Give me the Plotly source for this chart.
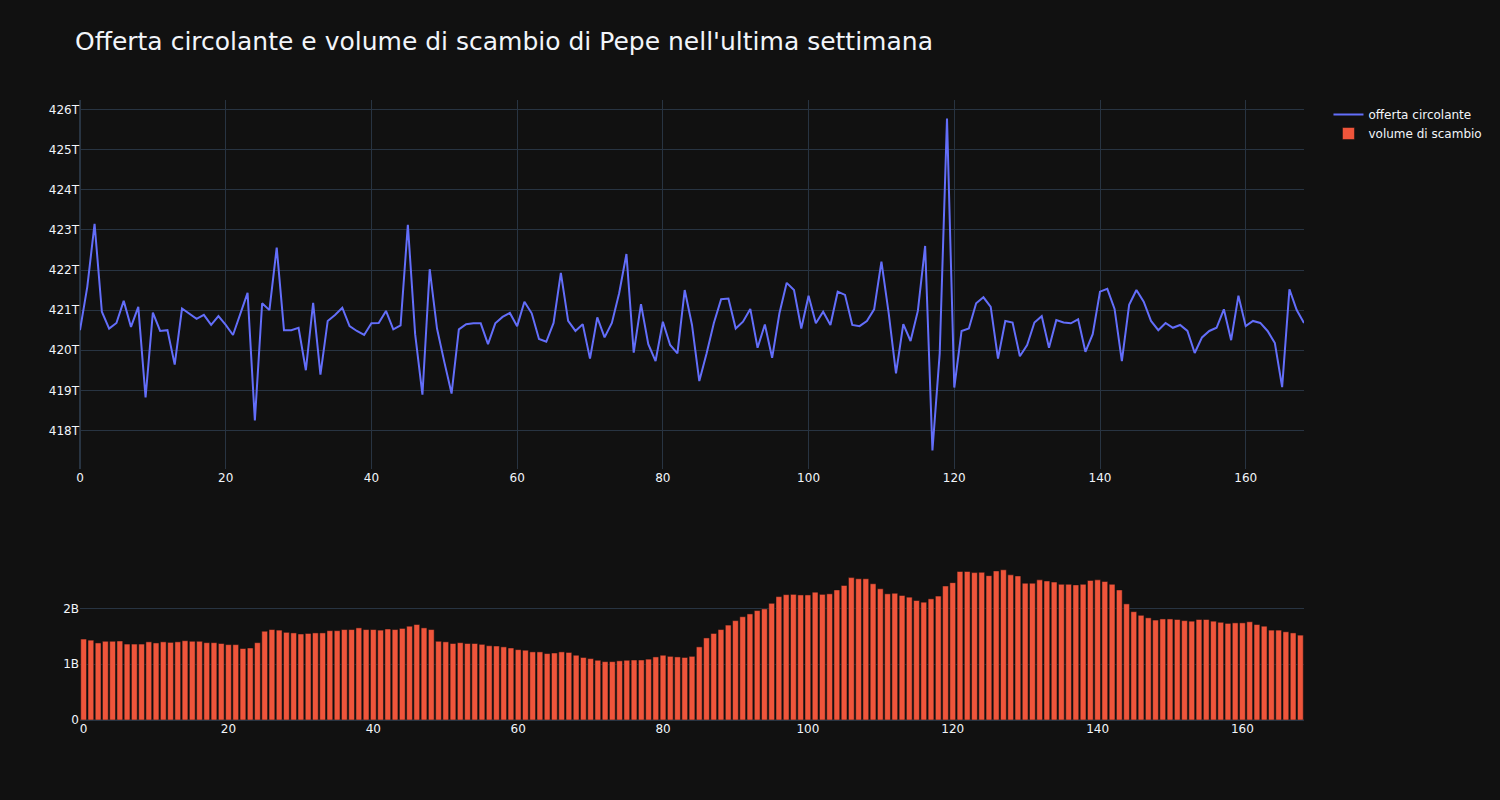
import plotly.graph_objects as go
from plotly.subplots import make_subplots

hours = list(range(169))

# circulating supply, in trillions
supply_t = [
    420.5, 421.58, 423.15, 420.96, 420.54, 420.68, 421.23, 420.58, 421.08, 418.82,
    420.94, 420.48, 420.5, 419.64, 421.04, 420.92, 420.78, 420.88, 420.63, 420.85,
    420.63, 420.38, 420.92, 421.43, 418.25, 421.17, 421.0, 422.56, 420.5, 420.5,
    420.56, 419.5, 421.18, 419.39, 420.73, 420.88, 421.06, 420.6, 420.48, 420.38,
    420.67, 420.68, 420.98, 420.52, 420.62, 423.13, 420.4, 418.89, 422.02, 420.54,
    419.71, 418.92, 420.52, 420.65, 420.67, 420.67, 420.15, 420.67, 420.83, 420.93,
    420.6, 421.21, 420.92, 420.28, 420.21, 420.68, 421.93, 420.73, 420.48, 420.65,
    419.79, 420.82, 420.32, 420.68, 421.42, 422.4, 419.94, 421.15, 420.15, 419.73,
    420.71, 420.13, 419.92, 421.5, 420.63, 419.23, 419.92, 420.68, 421.27, 421.29,
    420.54, 420.71, 421.03, 420.06, 420.64, 419.81, 420.92, 421.68, 421.5, 420.54,
    421.36, 420.67, 420.96, 420.63, 421.46, 421.38, 420.63, 420.6, 420.73, 421.02,
    422.21, 420.92, 419.42, 420.65, 420.23, 420.98, 422.6, 417.5, 419.92, 425.78,
    419.07, 420.48, 420.54, 421.17, 421.32, 421.08, 419.79, 420.73, 420.69, 419.85,
    420.13, 420.69, 420.85, 420.06, 420.75, 420.69, 420.67, 420.77, 419.96, 420.4,
    421.46, 421.53, 421.03, 419.73, 421.13, 421.5, 421.21, 420.73, 420.5, 420.68,
    420.56, 420.63, 420.48, 419.93, 420.32, 420.48, 420.56, 421.02, 420.25, 421.36,
    420.6, 420.73, 420.68, 420.48, 420.18, 419.08, 421.52, 421.0, 420.68,
]

# trading volume, in billions
volume_b = [
    1.45, 1.43, 1.38, 1.41, 1.41, 1.415, 1.36, 1.36, 1.36, 1.40,
    1.38, 1.40, 1.39, 1.40, 1.42, 1.41, 1.41, 1.385, 1.385, 1.37,
    1.35, 1.35, 1.28, 1.29, 1.385, 1.59, 1.62, 1.61, 1.57, 1.56,
    1.54, 1.55, 1.56, 1.56, 1.60, 1.60, 1.62, 1.62, 1.65, 1.62,
    1.62, 1.61, 1.63, 1.62, 1.64, 1.68, 1.71, 1.65, 1.62, 1.41,
    1.40, 1.37, 1.385, 1.37, 1.37, 1.355, 1.33, 1.325, 1.31, 1.29,
    1.26, 1.25, 1.22, 1.22, 1.19, 1.20, 1.22, 1.21, 1.16, 1.12,
    1.10, 1.07, 1.045, 1.045, 1.06, 1.07, 1.075, 1.075, 1.09, 1.13,
    1.16, 1.14, 1.13, 1.12, 1.14, 1.31, 1.47, 1.55, 1.62, 1.70,
    1.78, 1.85, 1.90, 1.96, 1.99, 2.09, 2.21, 2.245, 2.25, 2.24,
    2.24, 2.29, 2.25, 2.26, 2.33, 2.41, 2.55, 2.53, 2.53, 2.44,
    2.35, 2.26, 2.27, 2.23, 2.20, 2.14, 2.11, 2.17, 2.22, 2.40,
    2.46, 2.66, 2.66, 2.64, 2.645, 2.585, 2.67, 2.69, 2.60, 2.58,
    2.45, 2.45, 2.51, 2.49, 2.47, 2.43, 2.43, 2.42, 2.43, 2.50,
    2.51, 2.48, 2.43, 2.33, 2.08, 1.94, 1.875, 1.83, 1.79, 1.81,
    1.81, 1.80, 1.78, 1.77, 1.80, 1.80, 1.77, 1.75, 1.73, 1.74,
    1.74, 1.76, 1.71, 1.68, 1.61, 1.61, 1.58, 1.56, 1.52,
]

supply = [v * 1e12 for v in supply_t]
volume = [v * 1e9 for v in volume_b]

fig = make_subplots(rows=2, cols=1, row_heights=[0.7, 0.3], vertical_spacing=0.15)

fig.add_trace(go.Scatter(x=hours, y=supply, mode="lines", name="offerta circolante"),
              row=1, col=1)
fig.add_trace(go.Bar(x=hours, y=volume, name="volume di scambio"), row=2, col=1)

fig.update_layout(
    template="plotly_dark",
    width=1500, height=800,
    font=dict(family="DejaVu Sans"),
    title=dict(text="Offerta circolante e volume di scambio di Pepe nell'ultima settimana",
               font=dict(size=25)),
    margin=dict(l=80, r=196, t=100, b=80),
)
fig.update_yaxes(exponentformat="SI", dtick=1e12, row=1, col=1)
fig.update_yaxes(exponentformat="B", dtick=1e9, row=2, col=1)
fig.update_xaxes(showgrid=False, row=2, col=1)

fig.write_html("out.html",
               config={"displayModeBar": False},
               post_script="document.body.style.margin='0';document.body.style.background='#111111';")
